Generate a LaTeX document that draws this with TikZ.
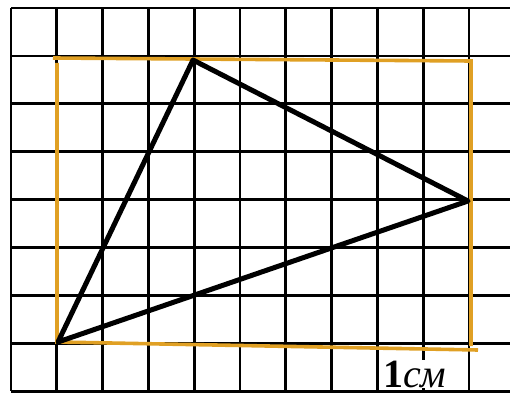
\documentclass[tikz,border=0pt]{standalone}
\usepackage{fontspec}
\newfontfamily\labelfont{Liberation Serif}
\definecolor{rectorange}{RGB}{224,160,36}
\tikzset{
  gridline/.style={line width=2.7pt, black},
  triside/.style={line width=5pt, black, line join=round, line cap=round},
  framebox/.style={line width=3.6pt, rectorange},
  unitlabel/.style={fill=white, inner sep=1pt, font=\labelfont\fontsize{40}{40}\selectfont, anchor=base west}
}
\begin{document}
\begin{tikzpicture}[x=1pt,y=-1pt]
\useasboundingbox (0,0) rectangle (510,395);
\fill[white] (0,0) rectangle (510,395);
% grid
\foreach \k in {0,...,10} {
  \draw[gridline] ({11+45.8*\k},8) -- ({11+45.8*\k},391);
}
\foreach \k in {0,...,8} {
  \draw[gridline] (11,{8+47.9*\k}) -- (510,{8+47.9*\k});
}
% unit label
\node[unitlabel] (lbl) at (382,387) {\textbf{1}\textit{см}};
% orange frame
\coordinate (r1) at (53,58);
\coordinate (r2) at (471,61);
\coordinate (r3) at (471,346);
\coordinate (r4) at (57,342);
\coordinate (r5) at (478,350);
\coordinate (r6) at (57,63);
\draw[framebox] (r1) -- (r2) -- (r3);
\draw[framebox] (r6) -- (r4) -- (r5);
% triangle
\coordinate (A) at (58,342);
\coordinate (B) at (193,60);
\coordinate (C) at (468,201);
\draw[triside] (A) -- (B) -- (C) -- cycle;
\end{tikzpicture}
\end{document}
